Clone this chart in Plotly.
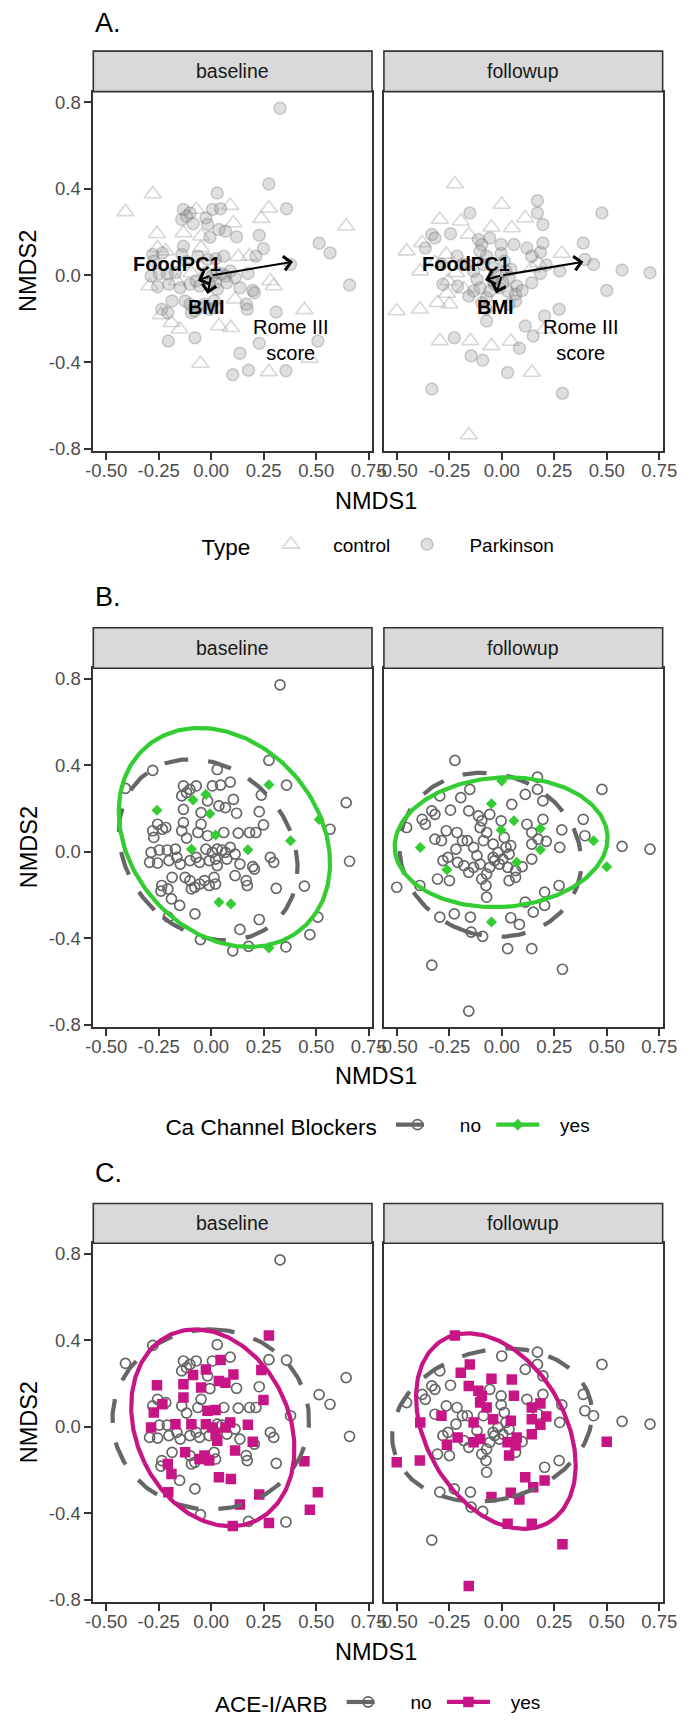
import numpy as np
import plotly.graph_objects as go

# ---------------- DATA ----------------
# baseline samples: NMDS coordinates, Type (C=control, P=Parkinson), Ca channel blocker, ACE-I/ARB
base_x = [0.328, 0.275, 0.359, 0.643, 0.566, 0.659, -0.278, -0.408, 0.029, 0.444,
          0.508, 0.470, 0.356, 0.178, 0.103, 0.229, 0.137, -0.077, -0.204, -0.051,
          0.310, -0.150, -0.189, -0.239, -0.235, 0.275, 0.037, 0.094, -0.258, -0.086,
          -0.025, -0.006, 0.021, -0.094, 0.175, 0.378, 0.275, 0.514, -0.132, -0.101,
          -0.071, 0.006, 0.045, 0.091, -0.140, -0.117, -0.017, 0.037, 0.068, 0.106,
          0.121, 0.229, 0.239, -0.132, -0.048, -0.132, -0.140, -0.117, -0.048, -0.063,
          -0.017, 0.060, 0.129, 0.183, 0.213, 0.249, -0.255, -0.216, -0.278, -0.273,
          -0.232, -0.286, -0.247, -0.209, -0.170, -0.293, -0.255, -0.201, -0.163, -0.147,
          -0.101, -0.025, 0.006, 0.029, 0.052, 0.068, 0.091, 0.114, 0.075, 0.021,
          0.029, -0.009, -0.055, -0.071, 0.137, 0.198, 0.206, 0.282, 0.298, 0.114,
          0.167, 0.172, -0.186, -0.124, -0.101, -0.078, -0.055, -0.032, 0.014, -0.009,
          0.021, -0.094, -0.206]
base_y = [0.771, 0.422, 0.308, 0.227, 0.104, -0.044, 0.376, 0.293, 0.380, -0.159,
          -0.302, -0.383, -0.440, -0.437, -0.458, -0.313, -0.359, -0.287, -0.302, -0.406,
          -0.169, -0.248, -0.218, -0.182, -0.156, -0.445, -0.233, -0.241, 0.192, 0.239,
          0.265, 0.176, 0.077, 0.012, 0.009, 0.051, 0.310, 0.149, 0.304, 0.288,
          0.304, 0.304, 0.308, 0.322, 0.258, 0.273, 0.235, 0.212, 0.204, 0.242,
          0.178, 0.185, 0.262, 0.196, 0.181, 0.135, 0.097, 0.063, 0.127, 0.089,
          0.074, 0.089, 0.086, 0.089, 0.089, 0.124, 0.127, 0.112, 0.097, 0.066,
          0.104, -0.003, 0.008, 0.008, 0.012, -0.049, -0.052, -0.041, -0.026, -0.057,
          -0.041, 0.012, -0.003, 0.012, 0.008, -0.003, 0.020, -0.011, -0.034, -0.034,
          -0.064, -0.041, -0.049, -0.026, -0.057, -0.069, -0.080, -0.026, -0.049, -0.110,
          -0.133, -0.156, -0.118, -0.118, -0.133, -0.164, -0.149, -0.133, -0.118, -0.156,
          -0.149, -0.172, -0.172]
base_type = list("PPPCPPCCPC" "PCPPPPPPPC" "PCCCPCCCCP" "PPPCPPCPPP" "CPPCPPPPPC"
                 "PPCCCPPPCP" "PPCCPPCCPP" "PPPPPCPPCP" "PPPPPPPPPP" "PPPPPPPCCC"
                 "PPPPPPPPPP" "PPP")
base_ccb = [0,0,0,0,0,0,0,0,0,0, 0,0,0,0,0,0,0,0,0,0, 0,0,0,0,0,1,1,1,1,1,
            1,1,1,1,1,1,1,1,0,0, 0,0,0,0,0,0,0,0,0,0, 0,0,0,0,0,0,0,0,0,0,
            0,0,0,0,0,0,0,0,0,0, 0,0,0,0,0,0,0,0,0,0, 0,0,0,0,0,0,0,0,0,0,
            0,0,0,0,0,0,0,0,0,0, 0,0,0,0,0,0,0,0,0,0, 0,0,0]
base_ace = [0,1,0,0,0,0,0,0,0,1, 1,1,0,0,1,1,1,0,1,0, 0,0,1,0,0,1,1,1,1,1,
            1,0,1,1,1,0,0,0,0,0, 0,0,1,0,0,0,0,1,1,1, 0,0,1,1,1,1,0,0,0,0,
            1,0,0,0,0,1,0,0,0,1, 1,1,0,0,1,0,0,0,0,0, 0,1,1,0,0,1,1,0,0,1,
            1,0,0,0,0,1,0,0,0,1, 0,0,0,1,0,0,1,1,0,1, 0,0,1]

fol_x = [-0.223, 0.170, 0.170, 0.477, 0.112, 0.196, 0.048, -0.152, -0.195, -0.295,
         -0.244, -0.333, -0.318, -0.379, -0.453, -0.364, -0.500, -0.390, -0.306, -0.249,
         -0.072, -0.295, -0.226, -0.149, -0.146, -0.091, -0.049, 0.043, 0.084, 0.028,
         0.143, -0.333, 0.289, -0.157, 0.112, 0.150, 0.204, 0.204, 0.273, 0.276,
         0.286, 0.388, 0.396, 0.573, 0.706, 0.437, 0.500, 0.000, -0.049, 0.058,
         0.184, 0.184, -0.388, -0.261, 0.071, -0.003, -0.157, -0.111, -0.057, -0.095,
         -0.072, -0.003, 0.120, 0.196, 0.143, 0.173, 0.212, 0.143, -0.264, -0.213,
         -0.318, -0.287, -0.218, -0.187, -0.164, -0.256, -0.280, -0.210, -0.180, -0.157,
         -0.134, -0.103, -0.118, -0.134, -0.087, -0.041, -0.018, -0.041, -0.011, 0.020,
         0.043, 0.012, 0.035, 0.028, 0.066, 0.035, 0.066, -0.072, -0.095, -0.075,
         -0.057, 0.097, 0.143, -0.034, 0.005, -0.103]
fol_y = [0.422, 0.345, 0.288, 0.288, 0.265, 0.235, 0.219, 0.288, 0.250, 0.258,
         0.192, 0.189, 0.173, 0.150, 0.112, 0.127, -0.164, -0.156, -0.126, -0.133,
         -0.210, -0.302, -0.287, -0.302, -0.371, -0.391, -0.325, -0.305, -0.336, -0.448,
         -0.448, -0.524, -0.543, -0.736, -0.233, -0.279, -0.248, -0.187, -0.156, 0.020,
         0.101, 0.150, 0.074, 0.025, 0.012, 0.051, -0.069, 0.327, 0.222, 0.143,
         0.107, 0.009, 0.020, -0.083, -0.049, 0.101, 0.189, 0.166, 0.173, 0.143,
         0.089, 0.143, 0.127, 0.150, 0.089, 0.058, 0.048, 0.035, 0.097, 0.089,
         0.058, 0.051, 0.012, 0.051, 0.051, -0.026, -0.041, -0.049, -0.064, -0.095,
         -0.072, -0.057, -0.018, 0.020, 0.051, 0.035, -0.003, -0.026, -0.057, 0.020,
         0.028, 0.066, -0.011, -0.072, -0.087, -0.133, -0.118, -0.103, -0.126, -0.156,
         -0.072, -0.069, -0.034, -0.041, -0.034, 0.112]
fol_type = list("CPPPCPCPCC" "PPPCCPCCCC" "PCPCPPCCPP" "CPPCPPCPPP" "CPPPPPPCCP"
                "PPCCPPCPPP" "PPPPPCPCCP" "CPCPPCPPCP" "PPPPPPPPPP" "PPPPPPPPPP"
                "PPPPPP")
fol_ccb = [0,0,0,0,0,0,0,0,0,0, 0,0,0,0,0,0,0,0,0,0, 0,0,0,0,0,0,1,0,0,0,
           0,0,0,0,0,0,0,0,0,0, 0,0,0,0,0,1,1,1,1,1, 1,1,1,1,1,1,0,0,0,0,
           0,0,0,0,0,0,0,0,0,0, 0,0,0,0,0,0,0,0,0,0, 0,0,0,0,0,0,0,0,0,0,
           0,0,0,0,0,0,0,0,0,0, 0,0,0,0,0,0]
fol_ace = [1,0,0,0,0,0,1,1,1,0, 0,0,0,0,0,0,1,1,0,0, 0,0,0,0,0,0,1,1,1,1,
           1,0,1,1,1,1,1,0,0,0, 0,0,0,0,0,0,1,0,1,1, 1,1,1,1,1,0,1,1,0,1,
           1,0,0,0,1,0,1,1,0,0, 0,1,0,0,0,0,0,1,0,0, 1,1,0,1,0,1,0,0,0,0,
           1,0,0,1,1,1,0,0,0,0, 0,0,1,0,0,1]

# envfit vectors (arrow tips) and their label positions
env_names = ["Rome III<br>score", "<b>FoodPC1</b>", "<b>BMI</b>"]
base_env_x = [0.390, -0.063, -0.017]
base_env_y = [0.063, -0.024, -0.086]
fol_env_x = [0.389, -0.080, -0.026]
fol_env_y = [0.063, -0.021, -0.083]
base_lab_x = [0.382, -0.162, -0.023]
base_lab_y = [-0.298, 0.052, -0.144]
fol_lab_x = [0.376, -0.172, -0.029]
fol_lab_y = [-0.298, 0.055, -0.146]

# 95% ellipses (centre and shape matrix) per panel / facet / group
ell_panel = ["B", "B", "B", "B", "C", "C", "C", "C"]
ell_facet = ["baseline", "baseline", "followup", "followup",
             "baseline", "baseline", "followup", "followup"]
ell_group = ["no", "yes", "no", "yes", "no", "yes", "no", "yes"]
ell_cx = [-0.014, 0.063, -0.054, -0.003, -0.002, 0.008, -0.046, -0.028]
ell_cy = [0.009, 0.066, -0.014, 0.044, 0.034, -0.005, 0.008, -0.020]
ell_sxx = [0.181, 0.253, 0.1875, 0.257, 0.219, 0.151, 0.2266, 0.1444]
ell_syy = [0.175, 0.256, 0.1436, 0.090, 0.173, 0.207, 0.1253, 0.2043]
ell_sxy = [-0.035, -0.060, -0.015, 0.010, 0.0, -0.038, 0.025, -0.060]

facets = ["baseline", "followup"]
x_ticks = [-0.5, -0.25, 0.0, 0.25, 0.5, 0.75]
x_ticktext = ["-0.50", "-0.25", "0.00", "0.25", "0.50", "0.75"]
y_ticks = [-0.8, -0.4, 0.0, 0.4, 0.8]
y_ticktext = ["-0.8", "-0.4", "0.0", "0.4", "0.8"]

# ---------------- LAYOUT (pixels) ----------------
W, H = 685, 1729
FONT = "Liberation Sans, Arial, Helvetica, sans-serif"
GRAY = "#666666"
GREEN = "#33CC33"
MAGENTA = "#C71585"
cols = [(80.0, 368.4), (380.7, 669.1)]
rows = {"A": dict(strip=(43.3, 84.0), plot=(84.0, 445.3), lab=15.5, title=495.3, leg=540),
        "B": dict(strip=(622.7, 663.3), plot=(663.3, 1024.0), lab=592, title=1073, leg=1123),
        "C": dict(strip=(1201.0, 1241.0), plot=(1241.0, 1601.7), lab=1170, title=1652, leg=1703)}


def py(v):
    return 1 - v / H


def pxx(v):
    return v / W


fig = go.Figure()
layout = dict(width=W, height=H, margin=dict(l=0, r=0, t=0, b=0),
              paper_bgcolor="white", plot_bgcolor="white", font=dict(family=FONT),
              shapes=[], annotations=[])

data = {"baseline": dict(x=base_x, y=base_y, t=base_type, ccb=base_ccb, ace=base_ace),
        "followup": dict(x=fol_x, y=fol_y, t=fol_type, ccb=fol_ccb, ace=fol_ace)}

ax_i = 0
for panel in ["A", "B", "C"]:
    r = rows[panel]
    for j, facet in enumerate(facets):
        ax_i += 1
        xs = "x" if ax_i == 1 else f"x{ax_i}"
        ys = "y" if ax_i == 1 else f"y{ax_i}"
        xd = [pxx(cols[j][0]), pxx(cols[j][1])]
        yd = [py(r["plot"][1]), py(r["plot"][0])]
        layout["xaxis" if ax_i == 1 else f"xaxis{ax_i}"] = dict(
            domain=xd, anchor=ys, range=[-0.561, 0.766], tickvals=x_ticks, ticktext=x_ticktext,
            showline=True, mirror=True, linecolor="#333333", linewidth=1.7,
            ticks="outside", ticklen=7, tickwidth=1.8, tickcolor="#333333",
            ticklabelstandoff=-5,
            tickfont=dict(size=18.5, color="#4D4D4D", family=FONT),
            showgrid=False, zeroline=False, fixedrange=True)
        layout["yaxis" if ax_i == 1 else f"yaxis{ax_i}"] = dict(
            domain=yd, anchor=xs, range=[-0.811, 0.848], tickvals=y_ticks, ticktext=y_ticktext,
            showline=True, mirror=True, linecolor="#333333", linewidth=1.7,
            ticks="outside" if j == 0 else "", ticklen=7, tickwidth=1.8, tickcolor="#333333",
            showticklabels=(j == 0),
            tickfont=dict(size=18.5, color="#4D4D4D", family=FONT),
            showgrid=False, zeroline=False, fixedrange=True)
        # strip
        layout["shapes"].append(dict(type="rect", xref="paper", yref="paper",
                                     x0=xd[0], x1=xd[1], y0=py(r["strip"][1]), y1=py(r["strip"][0]),
                                     fillcolor="#D9D9D9", line=dict(color="#333333", width=1.6)))
        layout["annotations"].append(dict(text=facet, xref="paper", yref="paper",
                                          x=(xd[0] + xd[1]) / 2, y=py((r["strip"][0] + r["strip"][1]) / 2),
                                          showarrow=False, xanchor="center", yanchor="middle",
                                          font=dict(size=19.5, color="#1A1A1A", family=FONT)))
        d = data[facet]
        X = np.array(d["x"]); Y = np.array(d["y"])
        if panel == "A":
            tt = np.array(d["t"])
            m = tt == "C"
            fig.add_trace(go.Scatter(x=X[m], y=Y[m], mode="markers", xaxis=xs, yaxis=ys,
                                     name="   control ", legend="legend", legendgroup="control",
                                     showlegend=(j == 0),
                                     marker=dict(symbol="triangle-up-open", size=15,
                                                 color="rgba(175,175,175,0.5)", line=dict(width=1.6))))
            m = tt == "P"
            fig.add_trace(go.Scatter(x=X[m], y=Y[m], mode="markers", xaxis=xs, yaxis=ys,
                                     name="   Parkinson", legend="legend", legendgroup="pd",
                                     showlegend=(j == 0),
                                     marker=dict(symbol="circle", size=12,
                                                 color="rgba(150,150,150,0.30)",
                                                 line=dict(color="rgba(95,95,95,0.28)", width=1.5))))
            ex = base_env_x if j == 0 else fol_env_x
            ey = base_env_y if j == 0 else fol_env_y
            lx = base_lab_x if j == 0 else fol_lab_x
            ly = base_lab_y if j == 0 else fol_lab_y
            for k in range(len(env_names)):
                layout["annotations"].append(dict(x=ex[k], y=ey[k], ax=0, ay=0, xref=xs, yref=ys,
                                                  axref=xs, ayref=ys, text="", showarrow=True,
                                                  arrowhead=4, arrowsize=1.3, arrowwidth=2.1,
                                                  arrowcolor="black", standoff=0, startstandoff=0))
            for k in range(len(env_names)):
                layout["annotations"].append(dict(x=lx[k], y=ly[k], xref=xs, yref=ys, text=env_names[k],
                                                  showarrow=False, xanchor="center", yanchor="middle",
                                                  font=dict(size=20, color="black", family=FONT)))
        else:
            grp = np.array(d["ccb"] if panel == "B" else d["ace"])
            col = GREEN if panel == "B" else MAGENTA
            sym = "diamond" if panel == "B" else "square"
            m = grp == 0
            fig.add_trace(go.Scatter(x=X[m], y=Y[m], mode="markers", xaxis=xs, yaxis=ys,
                                     showlegend=False,
                                     marker=dict(symbol="circle-open", size=10, color=GRAY,
                                                 line=dict(width=1.7))))
            m = grp == 1
            fig.add_trace(go.Scatter(x=X[m], y=Y[m], mode="markers", xaxis=xs, yaxis=ys,
                                     showlegend=False,
                                     marker=dict(symbol=sym, size=8.5 if panel == "B" else 10.5, color=col)))
            t = np.linspace(0, 2 * np.pi, 240)
            for k in range(len(ell_panel)):
                if ell_panel[k] != panel or ell_facet[k] != facet:
                    continue
                S = np.array([[ell_sxx[k], ell_sxy[k]], [ell_sxy[k], ell_syy[k]]])
                vals, vecs = np.linalg.eigh(S)
                pts = vecs @ (np.sqrt(vals)[:, None] * np.vstack([np.cos(t), np.sin(t)]))
                is_no = ell_group[k] == "no"
                fig.add_trace(go.Scatter(x=ell_cx[k] + pts[0], y=ell_cy[k] + pts[1], mode="lines",
                                         xaxis=xs, yaxis=ys, showlegend=False, hoverinfo="skip",
                                         line=dict(color=GRAY if is_no else col, width=4.2,
                                                   dash="24px,20px" if is_no else "solid")))
    # panel label and axis titles
    layout["annotations"].append(dict(text=panel + ".", xref="paper", yref="paper",
                                      x=pxx(80), y=py(r["lab"]), xanchor="left", yanchor="middle",
                                      showarrow=False, font=dict(size=27, color="black", family=FONT)))
    layout["annotations"].append(dict(text="NMDS1", xref="paper", yref="paper",
                                      x=pxx(372), y=py(r["title"]),
                                      xanchor="center", yanchor="middle", showarrow=False,
                                      font=dict(size=23.5, color="black", family=FONT)))
    layout["annotations"].append(dict(text="NMDS2", xref="paper", yref="paper",
                                      x=pxx(13), y=py((r["plot"][0] + r["plot"][1]) / 2), textangle=-90,
                                      xanchor="center", yanchor="middle", showarrow=False,
                                      font=dict(size=23.5, color="black", family=FONT)))

# legend-only entries for panels B and C
for panel, lg, col, sym, ms in [("B", "legend2", GREEN, "diamond", 9), ("C", "legend3", MAGENTA, "square", 10.5)]:
    fig.add_trace(go.Scatter(x=[None], y=[None], mode="lines+markers", name="   no ", legend=lg,
                             line=dict(color=GRAY, width=4.2, dash="28px,20px"),
                             marker=dict(symbol="circle-open", size=10, color=GRAY, line=dict(width=1.8))))
    fig.add_trace(go.Scatter(x=[None], y=[None], mode="lines+markers", name="   yes", legend=lg,
                             line=dict(color=col, width=4.2),
                             marker=dict(symbol=sym, size=ms, color=col)))

cx_leg = pxx(376)
for key, panel, title in [("legend", "A", "Type"), ("legend2", "B", "Ca Channel Blockers"),
                          ("legend3", "C", "ACE-I/ARB")]:
    layout[key] = dict(orientation="h", x=cx_leg, xanchor="center", y=py(rows[panel]["leg"]),
                       yanchor="middle", bgcolor="rgba(0,0,0,0)",
                       title=dict(text=title + " ", font=dict(size=22.5, color="black", family=FONT)),
                       font=dict(size=19, color="black", family=FONT), itemwidth=43,
                       itemsizing="trace", traceorder="normal")

fig.update_layout(**layout)
fig.write_html("out.html")
